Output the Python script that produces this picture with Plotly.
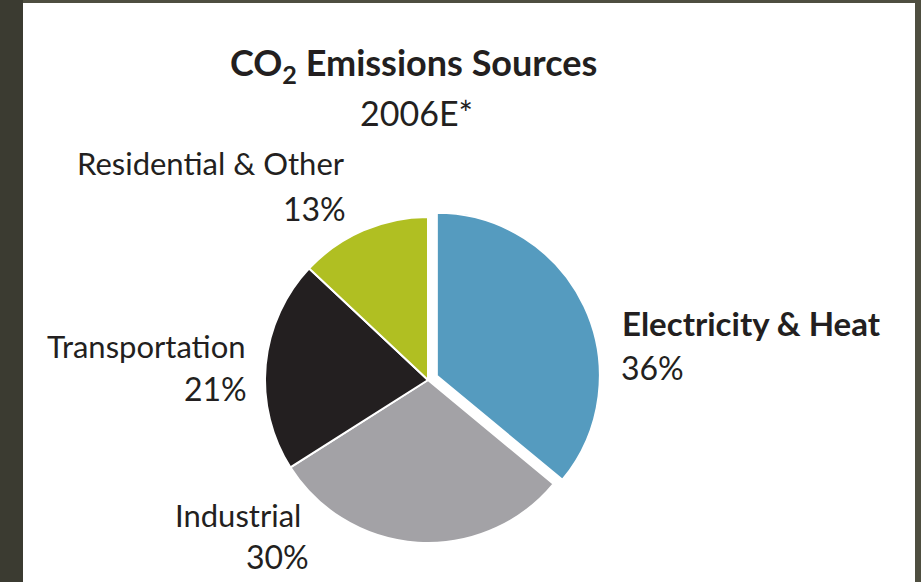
import plotly.graph_objects as go

categories = ["Electricity & Heat", "Industrial", "Transportation", "Residential & Other"]
values = [36, 30, 21, 13]
colors = ["#559bbf", "#a3a2a6", "#231f20", "#b0bf22"]
pulls = [0.06, 0, 0, 0]

W, H = 921, 582
cx, cy, r = 428, 380, 163
k = r * (1 + max(pulls))

fig = go.Figure(go.Pie(
    labels=categories, values=values, sort=False, direction="clockwise", rotation=0,
    marker=dict(colors=colors, line=dict(color="white", width=2)),
    pull=pulls, textinfo="none", hoverinfo="label+percent", showlegend=False,
    domain=dict(x=[(cx - k) / W, (cx + k) / W], y=[(H - cy - k) / H, (H - cy + k) / H]),
))

FONT = "Lato, 'Open Sans', sans-serif"
TXT = "#231f20"

def px(x, y):
    return x / W, 1 - y / H

anns = []
def add(text, x, y, size, anchor="center", bold=False):
    xx, yy = px(x, y)
    anns.append(dict(text=f"<b>{text}</b>" if bold else text, x=xx, y=yy, xref="paper", yref="paper",
                     xanchor=anchor, yanchor="middle", showarrow=False,
                     font=dict(family=FONT, size=size, color=TXT)))

add("CO<sub>2</sub> Emissions Sources", 413, 64, 36, bold=True)
add("2006E*", 416, 113, 34)
add(categories[0], 620, 323, 33, anchor="left", bold=True)
add(f"{values[0]}%", 619, 367, 32, anchor="left")
add(categories[3], 347, 163, 31, anchor="right")
add(f"{values[3]}%", 348, 208, 32, anchor="right")
add(categories[2], 248, 346, 31, anchor="right")
add(f"{values[2]}%", 249, 388, 32, anchor="right")
add(categories[1], 303, 515, 31, anchor="right")
add(f"{values[1]}%", 311, 556, 32, anchor="right")

fig.update_layout(
    width=W, height=H, margin=dict(l=0, r=0, t=0, b=0),
    paper_bgcolor="#4e4e40", plot_bgcolor="#4e4e40",
    annotations=anns,
    shapes=[
        dict(type="rect", xref="paper", yref="paper", x0=0, x1=23 / W, y0=0, y1=1,
             fillcolor="#3b3b31", line=dict(width=0), layer="below"),
        dict(type="rect", xref="paper", yref="paper", x0=23 / W, x1=915 / W, y0=0, y1=1 - 3 / H,
             fillcolor="white", line=dict(width=0), layer="below"),
    ],
)

fig.write_html("out.html")
